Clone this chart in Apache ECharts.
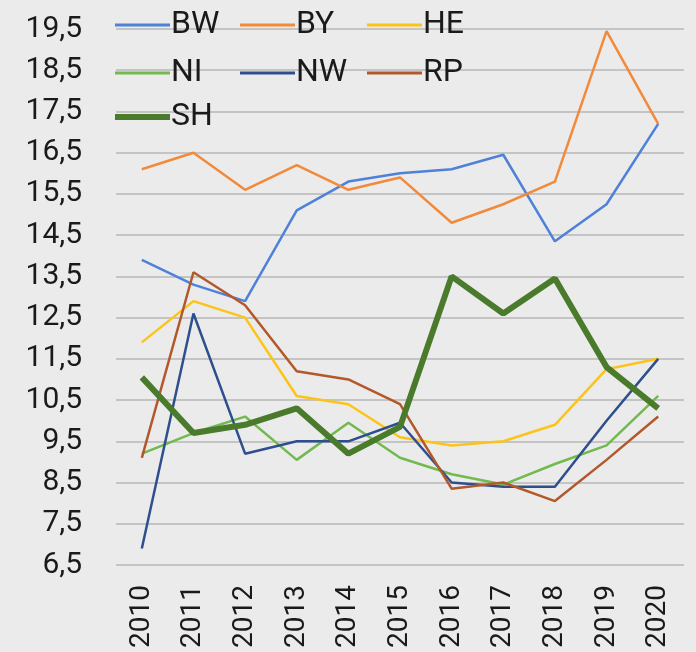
<!DOCTYPE html>
<html>
<head>
<meta charset="utf-8">
<script src="https://cdn.jsdelivr.net/npm/echarts@6/dist/echarts.min.js"></script>
<style>
  html, body { margin: 0; padding: 0; background: #ebebeb; }
  #chart { width: 696px; height: 652px; }
</style>
</head>
<body>
<div id="chart"></div>
<script>
const years = ['2010', '2011', '2012', '2013', '2014', '2015', '2016', '2017', '2018', '2019', '2020'];
const yTicks = [6.5, 7.5, 8.5, 9.5, 10.5, 11.5, 12.5, 13.5, 14.5, 15.5, 16.5, 17.5, 18.5, 19.5];

const bw = [13.9, 13.3, 12.9, 15.1, 15.8, 16.0, 16.1, 16.45, 14.35, 15.25, 17.2];
const by = [16.1, 16.5, 15.6, 16.2, 15.6, 15.9, 14.8, 15.25, 15.8, 19.45, 17.2];
const he = [11.9, 12.9, 12.5, 10.6, 10.4, 9.6, 9.4, 9.5, 9.9, 11.25, 11.5];
const ni = [9.2, 9.7, 10.1, 9.05, 9.95, 9.1, 8.7, 8.45, 8.95, 9.4, 10.6];
const nw = [6.9, 12.6, 9.2, 9.5, 9.5, 9.95, 8.5, 8.4, 8.4, 10.0, 11.5];
const rp = [9.1, 13.6, 12.8, 11.2, 11.0, 10.4, 8.35, 8.5, 8.05, 9.05, 10.1];
const sh = [11.05, 9.7, 9.9, 10.3, 9.2, 9.85, 13.5, 12.6, 13.45, 11.3, 10.3];

const font = "Roboto, 'DejaVu Sans Condensed', sans-serif";

const seriesDefs = [
  { name: 'BW', data: bw, color: '#4f81d9', width: 2.5 },
  { name: 'BY', data: by, color: '#f28a3c', width: 2.5 },
  { name: 'HE', data: he, color: '#fcc419', width: 2.5 },
  { name: 'NI', data: ni, color: '#72b94f', width: 2.5 },
  { name: 'NW', data: nw, color: '#2e4f8e', width: 2.5 },
  { name: 'RP', data: rp, color: '#b3582b', width: 2.5 },
  { name: 'SH', data: sh, color: '#4a7a2b', width: 6 }
];

// legend layout: 3 columns
const legendPos = {
  BW: [110, 4], BY: [235, 4], HE: [362, 4],
  NI: [110, 52], NW: [235, 52], RP: [362, 52],
  SH: [110, 96]
};

const chart = echarts.init(document.getElementById('chart'));

const option = {
  backgroundColor: '#ebebeb',
  animation: false,
  legend: seriesDefs.map(s => ({
    data: [s.name],
    left: legendPos[s.name][0],
    top: legendPos[s.name][1],
    icon: 'rect',
    itemWidth: 55,
    itemHeight: s.width > 3 ? 6 : 3,
    itemGap: 0,
    textStyle: { fontFamily: font, fontSize: 32, color: '#1a1a1a', padding: [0, 0, 0, -4] }
  })),
  grid: { left: 116, right: 12, top: 29, bottom: 87, outerBoundsMode: 'none', containLabel: false },
  xAxis: {
    type: 'category',
    data: years,
    boundaryGap: true,
    axisLine: { show: false },
    axisTick: { show: false },
    axisLabel: {
      rotate: 90,
      margin: 20,
      fontFamily: font,
      fontSize: 28,
      color: '#1a1a1a'
    }
  },
  yAxis: {
    type: 'value',
    min: 6.5,
    max: 19.5,
    axisLine: { show: false },
    axisTick: { show: false, customValues: yTicks },
    axisLabel: {
      customValues: yTicks,
      margin: 34,
      fontFamily: font,
      fontSize: 30,
      color: '#1a1a1a',
      formatter: v => v.toFixed(1).replace('.', ',')
    },
    splitLine: { lineStyle: { color: '#c4c4c4', width: 2 } }
  },
  series: seriesDefs.map(s => ({
    name: s.name,
    type: 'line',
    data: s.data,
    showSymbol: false,
    symbol: 'none',
    color: s.color,
    lineStyle: { color: s.color, width: s.width },
    z: s.name === 'SH' ? 3 : 2
  }))
};

chart.setOption(option);
</script>
</body>
</html>
